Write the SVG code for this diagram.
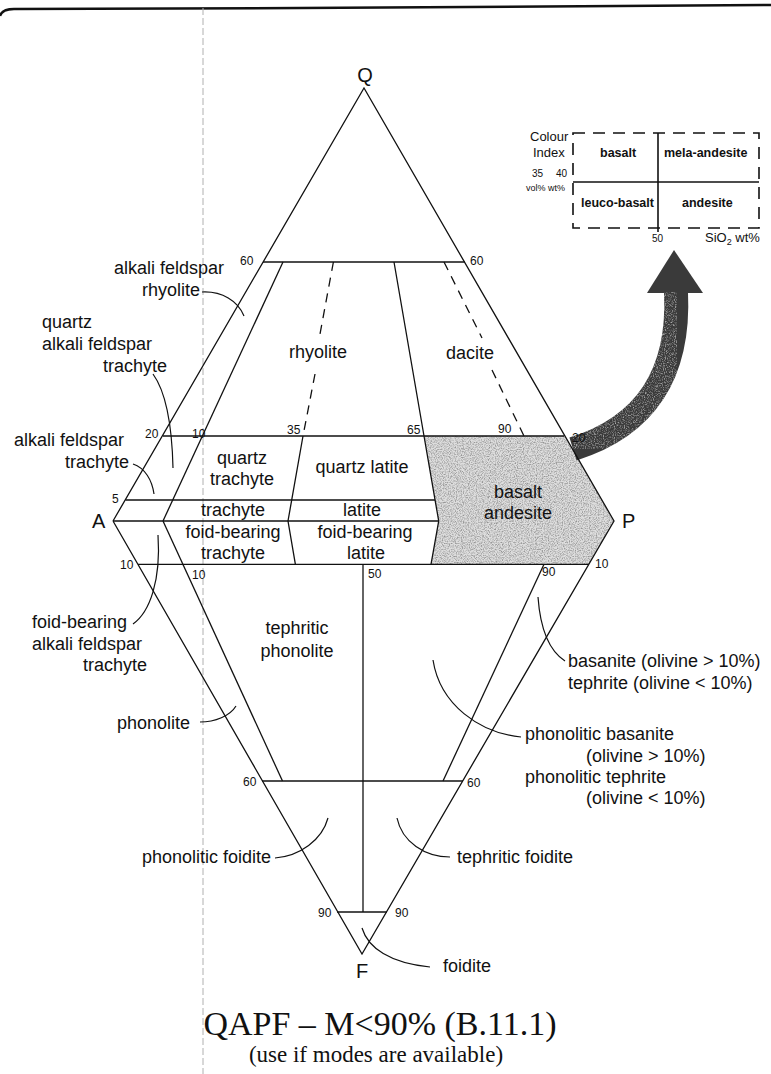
<svg xmlns="http://www.w3.org/2000/svg" width="771" height="1074" viewBox="0 0 771 1074">
<style>
.ln{stroke:#111;stroke-width:1.3;fill:none}
.ds{stroke:#111;stroke-width:1.3;fill:none;stroke-dasharray:9 7}
.ld{stroke:#111;stroke-width:1.2;fill:none}
.t{font-family:"Liberation Sans",Arial,sans-serif;font-size:18px;fill:#111}
.n{font-family:"Liberation Sans",Arial,sans-serif;font-size:12px;fill:#111}
.v{font-family:"Liberation Sans",Arial,sans-serif;font-size:20px;fill:#111}
.m{text-anchor:middle}
.e{text-anchor:end}
.ib{font-family:"Liberation Sans",Arial,sans-serif;font-size:12.5px;font-weight:bold;fill:#111}
.is{font-family:"Liberation Sans",Arial,sans-serif;font-size:13px;fill:#111}
.ser{font-family:"Liberation Serif","Times New Roman",serif;fill:#111;text-anchor:middle}
</style>
<defs>
<filter id="speck" x="0" y="0" width="1" height="1">
<feTurbulence type="fractalNoise" baseFrequency="0.85" numOctaves="2" seed="5" result="n"/>
<feColorMatrix in="n" type="matrix" values="0 0 0 0 0.3 0 0 0 0 0.3 0 0 0 0 0.3 0 0 0 -2.4 1.45" result="c"/>
<feComposite in="c" in2="SourceGraphic" operator="in"/>
</filter>
<filter id="speck2" x="0" y="0" width="1" height="1">
<feTurbulence type="fractalNoise" baseFrequency="0.9" numOctaves="2" seed="9" result="n"/>
<feColorMatrix in="n" type="matrix" values="0 0 0 0 0.55 0 0 0 0 0.55 0 0 0 0 0.55 0 0 0 -2.2 1.2" result="c"/>
<feComposite in="c" in2="SourceGraphic" operator="in"/>
</filter>
</defs>
<rect width="771" height="1074" fill="#fff"/>
<g id="page-edge">
<path d="M0,16 Q2,9 14,9 L300,8 L771,5" stroke="#111" stroke-width="2.5" fill="none"/>
<line x1="203" y1="8" x2="203" y2="1074" stroke="#b0b0b0" stroke-width="1" stroke-dasharray="7 3"/>
</g>
<g id="basalt-andesite-field">
<polygon points="424,436 564,436 614,521 589,564 431,564 438.7,521" fill="#dedede"/>
<polygon points="424,436 564,436 614,521 589,564 431,564 438.7,521" fill="#fff" filter="url(#speck)"/>
</g>
<g id="arrow">
<path d="M573,449 Q682,415 676,292" stroke="#3a3a3a" stroke-width="24" fill="none"/>
<polygon points="647,293 703,293 674,250" fill="#3a3a3a"/>
<path d="M573,449 Q682,415 676,292" stroke="#000" stroke-width="24" fill="none" filter="url(#speck2)"/>
</g>
<g id="connectors">
<polyline class="ln" points="113,521 364,88 614,521 362,954 113,521"/>
<line class="ln" x1="263" y1="262" x2="465" y2="262"/>
<line class="ln" x1="163" y1="436" x2="564" y2="436"/>
<line class="ln" x1="125.5" y1="500" x2="435" y2="500"/>
<line class="ln" x1="113" y1="521" x2="438.7" y2="521"/>
<line class="ln" x1="138" y1="564.3" x2="589" y2="564.3"/>
<line class="ln" x1="262" y1="781" x2="463" y2="781"/>
<line class="ln" x1="337" y1="912" x2="387" y2="912"/>
<line class="ln" x1="283" y1="262" x2="163" y2="521"/>
<polyline class="ln" points="394,262 424,436 438.7,521 431,564.3"/>
<polyline class="ln" points="303,436 288,521 295.4,564.3"/>
<line class="ds" x1="333.4" y1="262" x2="320" y2="334"/>
<line class="ds" x1="315" y1="374" x2="303" y2="436"/>
<line class="ds" x1="444" y1="262" x2="482" y2="338"/>
<line class="ds" x1="492" y1="370" x2="524" y2="436"/>
<line class="ln" x1="163" y1="521" x2="282.5" y2="781"/>
<line class="ln" x1="544" y1="564.3" x2="443" y2="781"/>
<line class="ln" x1="363" y1="564.3" x2="363" y2="912"/>
<path class="ld" d="M202,292 C222,291 238,301 244,316"/>
<path class="ld" d="M153,374 C166,392 172,425 173,468"/>
<path class="ld" d="M133,464 C145,468 152,480 154,494"/>
<path class="ld" d="M133,624 C150,612 161,580 158,535"/>
<path class="ld" d="M200,722 C215,722 230,716 236,706"/>
<path class="ld" d="M275,858 C300,856 322,840 328,818"/>
<path class="ld" d="M450,857 C425,857 402,842 397,818"/>
<path class="ld" d="M362,928 C368,948 390,963 430,967"/>
<path class="ld" d="M538,597 C540,625 548,650 565,661"/>
<path class="ld" d="M433,660 C440,705 480,733 521,737"/>
</g>
<g id="apex-labels">
<text class="v m" x="365" y="82">Q</text>
<text class="v" x="92" y="528">A</text>
<text class="v" x="622" y="528">P</text>
<text class="v m" x="362" y="978">F</text>
</g>
<g id="numbers">
<text class="n" x="240" y="265">60</text>
<text class="n" x="470" y="265">60</text>
<text class="n" x="145" y="438">20</text>
<text class="n" x="192" y="438">10</text>
<text class="n" x="287" y="434">35</text>
<text class="n" x="407" y="434">65</text>
<text class="n" x="498" y="433">90</text>
<text class="n" x="112" y="503">5</text>
<text class="n" x="120" y="569">10</text>
<text class="n" x="192" y="579">10</text>
<text class="n" x="368" y="578">50</text>
<text class="n" x="542" y="576">90</text>
<text class="n" x="595" y="568">10</text>
<text class="n" x="243" y="786">60</text>
<text class="n" x="467" y="787">60</text>
<text class="n" x="318" y="917">90</text>
<text class="n" x="395" y="917">90</text>
<text class="n" x="572" y="442" fill="#222">20</text>
</g>
<g id="field-rhyolite"><text class="t m" x="318" y="358">rhyolite</text></g>
<g id="field-dacite"><text class="t m" x="470" y="359">dacite</text></g>
<g id="field-quartz-trachyte"><text class="t m" x="242" y="464">quartz</text><text class="t m" x="242" y="485">trachyte</text></g>
<g id="field-quartz-latite"><text class="t m" x="362" y="473">quartz latite</text></g>
<g id="field-trachyte"><text class="t m" x="233" y="516">trachyte</text></g>
<g id="field-latite"><text class="t m" x="362" y="516">latite</text></g>
<g id="field-foid-trachyte"><text class="t m" x="233" y="538">foid-bearing</text><text class="t m" x="233" y="559">trachyte</text></g>
<g id="field-foid-latite"><text class="t m" x="365" y="538">foid-bearing</text><text class="t m" x="366" y="559">latite</text></g>
<g id="field-basalt-andesite"><text class="t m" x="518" y="498">basalt</text><text class="t m" x="518" y="519">andesite</text></g>
<g id="field-tephritic-phonolite"><text class="t m" x="297" y="634">tephritic</text><text class="t m" x="297" y="657">phonolite</text></g>
<g id="label-afr"><text class="t" x="114" y="274">alkali feldspar</text><text class="t" x="142" y="296">rhyolite</text></g>
<g id="label-qaft"><text class="t" x="42" y="328">quartz</text><text class="t" x="42" y="350">alkali feldspar</text><text class="t" x="103" y="372">trachyte</text></g>
<g id="label-aft"><text class="t" x="14" y="446">alkali feldspar</text><text class="t" x="65" y="468">trachyte</text></g>
<g id="label-faft"><text class="t" x="32" y="628">foid-bearing</text><text class="t" x="32" y="650">alkali feldspar</text><text class="t" x="83" y="671">trachyte</text></g>
<g id="label-phonolite"><text class="t" x="117" y="729">phonolite</text></g>
<g id="label-phonolitic-foidite"><text class="t e" x="271" y="863">phonolitic foidite</text></g>
<g id="label-tephritic-foidite"><text class="t" x="457" y="863">tephritic foidite</text></g>
<g id="label-foidite"><text class="t" x="443" y="972">foidite</text></g>
<g id="label-basanite"><text class="t" x="568" y="667">basanite (olivine &gt; 10%)</text><text class="t" x="568" y="689">tephrite (olivine &lt; 10%)</text></g>
<g id="label-phonolitic-basanite"><text class="t" x="525" y="740">phonolitic basanite</text><text class="t" x="586" y="762">(olivine &gt; 10%)</text><text class="t" x="525" y="783">phonolitic tephrite</text><text class="t" x="586" y="804">(olivine &lt; 10%)</text></g>
<g id="inset">
<rect x="573" y="133" width="186" height="95" fill="none" stroke="#111" stroke-width="1.6" stroke-dasharray="12 8"/>
<line x1="573" y1="182" x2="759" y2="182" stroke="#111" stroke-width="1.6"/>
<line x1="658" y1="133" x2="658" y2="232" stroke="#111" stroke-width="1.6"/>
<text class="is" x="530" y="141">Colour</text>
<text class="is" x="533" y="157">Index</text>
<text class="n" x="532" y="177" style="font-size:10px">35</text>
<text class="n" x="556" y="177" style="font-size:10px">40</text>
<text class="n" x="526" y="191" style="font-size:9px">vol% wt%</text>
<text class="ib" x="600" y="157">basalt</text>
<text class="ib" x="664" y="157">mela-andesite</text>
<text class="ib" x="581" y="207">leuco-basalt</text>
<text class="ib" x="682" y="207">andesite</text>
<text class="n" x="652" y="242" style="font-size:10px">50</text>
<text class="is" x="705" y="242">SiO<tspan font-size="9" dy="3">2</tspan><tspan dy="-3"> wt%</tspan></text>
</g>
<g id="title">
<text class="ser" x="380" y="1035" font-size="34">QAPF – M&lt;90% (B.11.1)</text>
<text class="ser" x="376" y="1062" font-size="23">(use if modes are available)</text>
</g>
</svg>
